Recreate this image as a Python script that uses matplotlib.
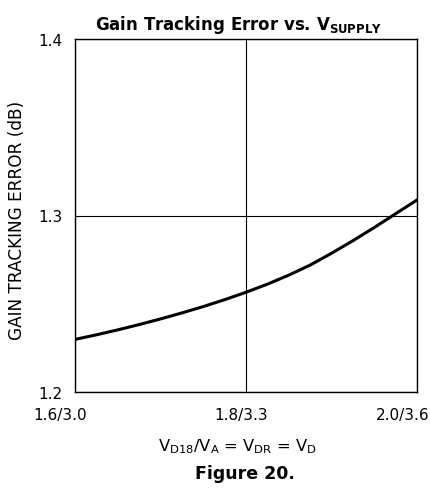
import numpy as np
import matplotlib
matplotlib.use('Agg')
import matplotlib.pyplot as plt
import matplotlib.transforms as mtransforms

plt.rcParams['font.family'] = ['DejaVu Sans']
plt.rcParams['mathtext.fontset'] = 'dejavusans'

# supply voltage (VD18) and gain tracking error (dB)
v_d18 = [1.600, 1.625, 1.650, 1.675, 1.700, 1.725, 1.750, 1.775, 1.800,
         1.825, 1.850, 1.875, 1.900, 1.925, 1.950, 1.975, 2.000]
gain_err = [1.2298, 1.2324, 1.2352, 1.2382, 1.2414, 1.2448, 1.2484, 1.2523,
            1.2565, 1.2611, 1.2662, 1.2719, 1.2786, 1.2857, 1.2932, 1.3010,
            1.3088]

x_ticks = [1.6, 1.8, 2.0]
x_labels = ['1.6/3.0', '1.8/3.3', '2.0/3.6']
y_ticks = [1.2, 1.3, 1.4]
y_labels = ['1.2', '1.3', '1.4']

fig = plt.figure(figsize=(4.31, 4.89), dpi=100)
ax = fig.add_axes([75 / 431, 1 - 393 / 489, 342 / 431, 353 / 489])

ax.plot(v_d18, gain_err, color='black', lw=2.2, solid_capstyle='round')

ax.set_xlim(1.6, 2.0)
ax.set_ylim(1.2, 1.4)
ax.set_xticks(x_ticks)
ax.set_xticklabels(x_labels)
ax.set_yticks(y_ticks)
ax.set_yticklabels(y_labels)
ax.tick_params(axis='both', length=0, labelsize=11, colors='black')
ax.tick_params(axis='x', pad=11)
ax.tick_params(axis='y', pad=9)

# x tick labels sit a bit left of their ticks in the original
shifts = [-15, -5, -14]
for lbl, dx in zip(ax.get_xticklabels(), shifts):
    off = mtransforms.ScaledTranslation(dx / 100, 0, fig.dpi_scale_trans)
    lbl.set_transform(lbl.get_transform() + off)

ax.grid(True, color='black', lw=0.8)
for s in ax.spines.values():
    s.set_color('black')
    s.set_linewidth(1.0)

ax.set_title(r'Gain Tracking Error vs. V$_{\mathbf{SUPPLY}}$',
             fontsize=12, fontweight='bold', pad=7, x=0.477)
ax.set_ylabel('GAIN TRACKING ERROR (dB)', fontsize=12.2)
ax.yaxis.set_label_coords(-0.142, 0.49)
ax.set_xlabel(r'V$_{\mathrm{D18}}$/V$_{\mathrm{A}}$ = V$_{\mathrm{DR}}$ = V$_{\mathrm{D}}$',
              fontsize=11.8)
ax.xaxis.set_label_coords(0.474, -0.125)

fig.text(245 / 431, 1 - 479 / 489, 'Figure 20.', fontsize=12.5,
         fontweight='bold', ha='center', va='baseline')

fig.savefig('out.png', dpi=100)
